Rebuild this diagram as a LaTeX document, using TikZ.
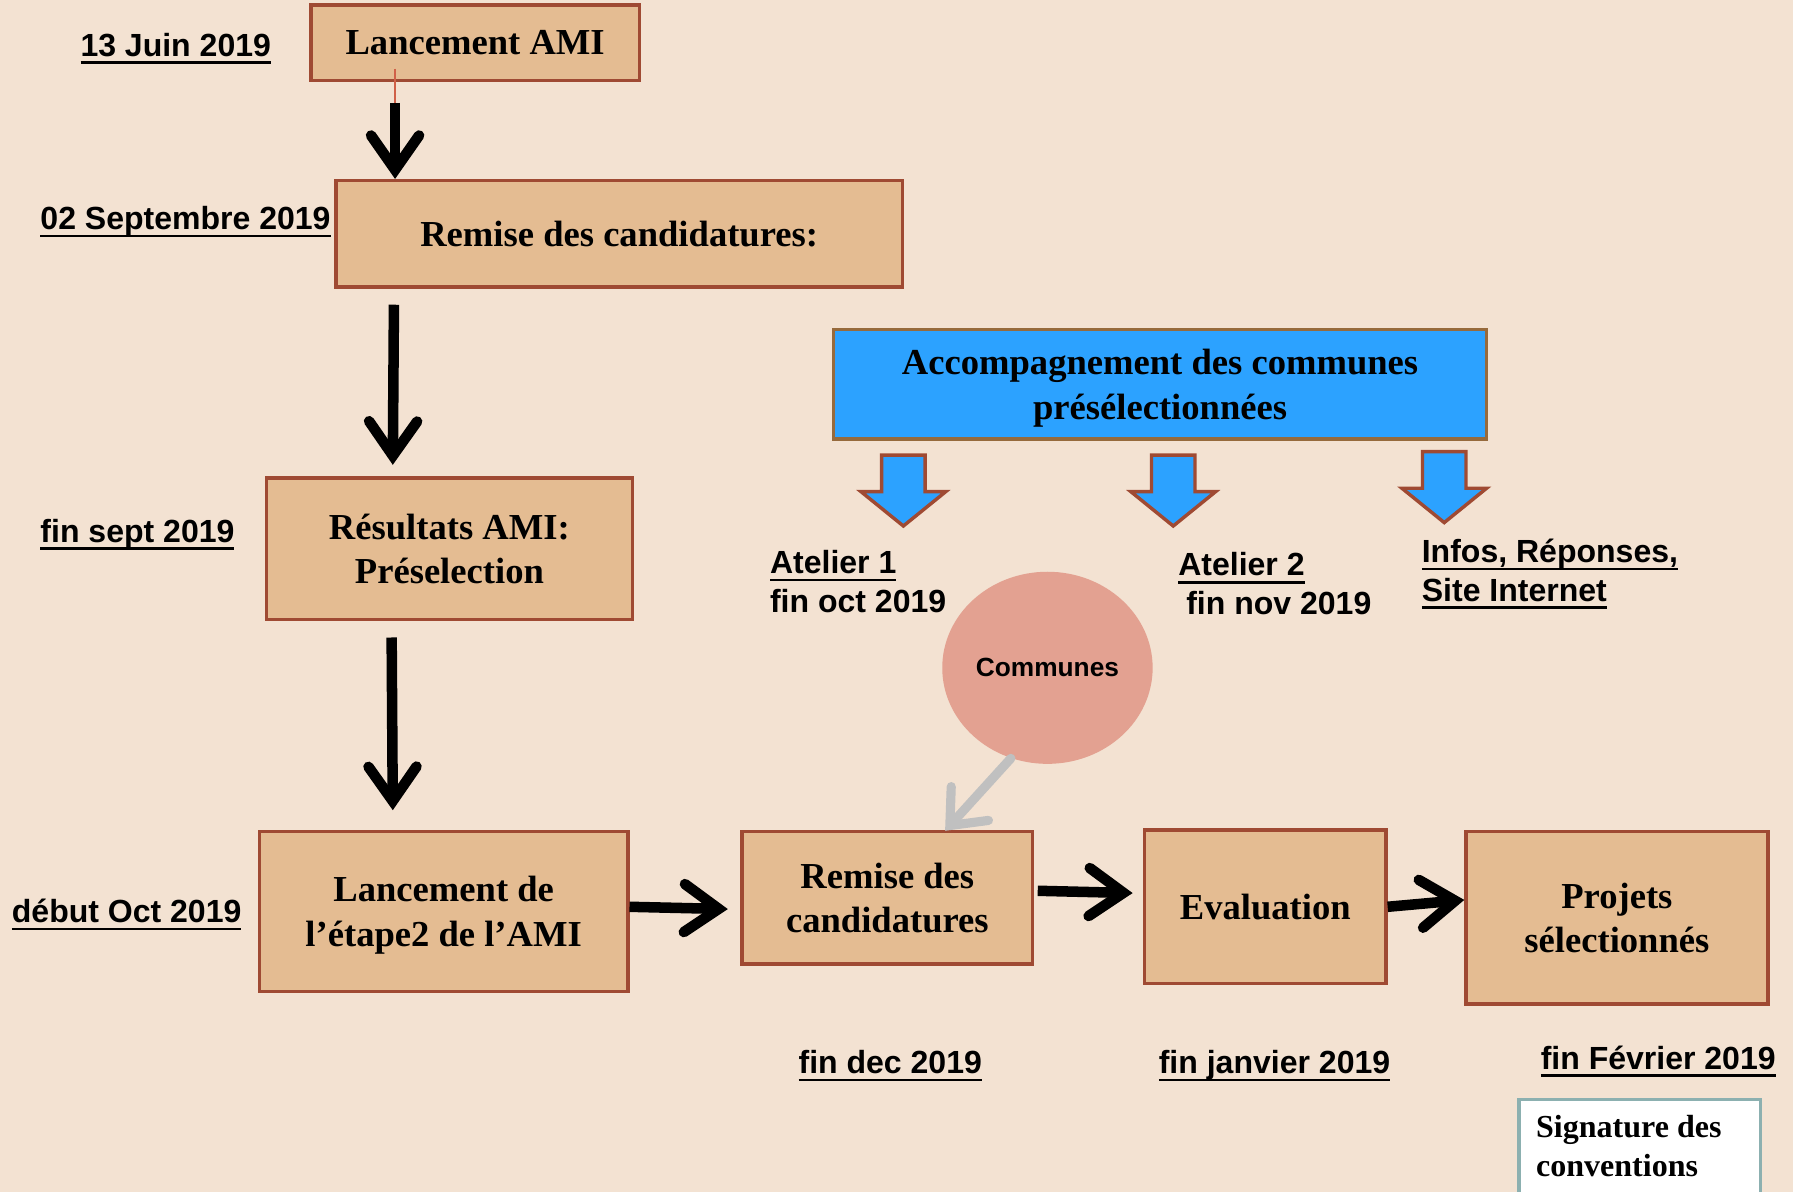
\documentclass[tikz,border=0pt]{standalone}
\usepackage{fontspec}
\setmainfont{Liberation Serif}
\newfontfamily\arialb{Liberation Sans}
\newsavebox\undlbox
\newcommand\undl[1]{\sbox\undlbox{#1}\rlap{\vrule height -2.2pt depth 3.3pt width \wd\undlbox}\usebox\undlbox}
\usetikzlibrary{arrows.meta,shapes.geometric}
\definecolor{bg}{HTML}{F3E2D2}
\definecolor{boxfill}{HTML}{E4BC92}
\definecolor{boxborder}{HTML}{9F4A33}
\definecolor{bluefill}{HTML}{2CA2FF}
\definecolor{blueborder}{HTML}{966A3C}
\definecolor{circfill}{HTML}{E3A191}
\definecolor{grayarr}{HTML}{C0C0C0}
\definecolor{tealborder}{HTML}{8CB0B0}
\definecolor{thinred}{HTML}{D06048}
\tikzset{
  box/.style={draw=boxborder, fill=boxfill, line width=1.5pt, align=center, inner sep=0pt,
    text depth=0pt, font=\fontsize{16}{19.5}\selectfont\bfseries},
  datelbl/.style={font=\arialb\fontsize{14}{17}\selectfont\bfseries, inner sep=0pt, anchor=base west},
  multilbl/.style={font=\arialb\fontsize{14}{17}\selectfont\bfseries, inner sep=0pt, anchor=north west, align=left},
  bigarrow/.style={line width=4.6pt, -{Straight Barb[length=15pt,width=21pt,line cap=round,line join=miter]}},
  grayarrow/.style={draw=grayarr, line width=4pt, line cap=round, -{Straight Barb[length=13pt,width=22pt,line cap=round,line join=miter]}},
  blockarrow/.style={draw=boxborder, fill=bluefill, line width=1.5pt, line join=miter},
}
\begin{document}
\begin{tikzpicture}[x=0.5pt,y=-0.5pt]
\useasboundingbox (0,0) rectangle (1568,1042);
\clip (0,0) rectangle (1568,1042);
\fill[bg] (0,0) rectangle (1568,1042);

% boxes
\node[box, minimum width=143.5pt, minimum height=33pt] (ami) at (415.5,37.5) {Lancement AMI};
\node[box, minimum width=247.5pt, minimum height=46.5pt] (rem1) at (541.5,204.5) {Remise des candidatures:};
\node[box, minimum width=160pt, minimum height=62pt] (res) at (393,480) {Résultats AMI:\\Préselection};
\node[box, minimum width=161pt, minimum height=70pt] (lanc2) at (388,797) {Lancement de\\l’étape2 de l’AMI};
\node[box, minimum width=127pt, minimum height=58pt] (rem2) at (776,785) {Remise des\\candidatures};
\node[box, minimum width=105.5pt, minimum height=67pt] (eval) at (1106.5,793) {Evaluation};
\node[box, minimum width=132pt, minimum height=75.5pt] (proj) at (1414,802.5) {Projets\\sélectionnés};
\node[box, draw=blueborder, fill=bluefill, minimum width=285.5pt, minimum height=48pt] (acc) at (1014.5,336) {Accompagnement des communes\\présélectionnées};

% signature box
\node[draw=tealborder, fill=white, line width=1.5pt, anchor=north west, minimum width=105.5pt, minimum height=55pt, inner sep=0pt] (sig) at (1327,960) {};
\node[anchor=north west, align=left, inner sep=0pt, font=\fontsize{14}{17}\selectfont\bfseries] (sigtxt) at (1343,975) {Signature des\\conventions};

% communes ellipse
\node[ellipse, fill=circfill, minimum width=92pt, minimum height=84pt, inner sep=0pt,
  font=\arialb\fontsize{11.5}{14}\selectfont\bfseries] (comm) at (916,584) {Communes};

% date labels
\node[datelbl] (d1) at (70,49) {\undl{13 Juin 2019}};
\node[datelbl] (d2) at (35,201) {\undl{02 Septembre 2019}};
\node[datelbl] (d3) at (35,474) {\undl{fin sept 2019}};
\node[datelbl] (d4) at (10,807) {\undl{début Oct 2019}};
\node[datelbl] (d5) at (698,939) {\undl{fin dec 2019}};
\node[datelbl] (d6) at (1013,939) {\undl{fin janvier 2019}};
\node[datelbl] (d7) at (1347,935) {\undl{fin Février 2019}};
\node[multilbl] (at1) at (673,481) {\undl{Atelier 1}\\fin oct 2019};
\node[multilbl] (at2) at (1030,483) {\undl{Atelier 2}\\\hspace*{3.5pt}fin nov 2019};
\node[multilbl] (info) at (1243,471) {\undl{Infos, Réponses,}\\\undl{Site Internet}};

% block arrows
\foreach \cx/\ty in {790/398, 1026/398, 1263/395}{
  \draw[blockarrow] (\cx-19,\ty) -- (\cx+19,\ty) -- (\cx+19,\ty+32) -- (\cx+37,\ty+32)
    -- (\cx,\ty+62) -- (\cx-37,\ty+32) -- (\cx-19,\ty+32) -- cycle;
}

% connectors
\coordinate (a1s) at ([shift={(75,18)}]ami.south west);
\draw[thinred, line width=0.7pt] ([shift={(75,-12)}]ami.south west) -- (a1s);
\draw[bigarrow] (a1s) -- ([shift={(53,0)}]rem1.north west);
\draw[bigarrow] ([shift={(52,14)}]rem1.south west) -- ([shift={(112,-10)}]res.north west);
\draw[bigarrow] ([shift={(111,14)}]res.south west) -- ([shift={(118,-17)}]lanc2.north west);
\draw[bigarrow] ([shift={(0,-4)}]lanc2.east) -- ([shift={(-11,10)}]rem2.west);
\draw[bigarrow] ([shift={(3,-6)}]rem2.east) -- ([shift={(-9,-12)}]eval.west);
\draw[bigarrow] (eval.east) -- ([shift={(0,-15.5)}]proj.west);
\draw[grayarrow] (comm.-112) -- ([shift={(179,1)}]rem2.north west);
\end{tikzpicture}
\end{document}
